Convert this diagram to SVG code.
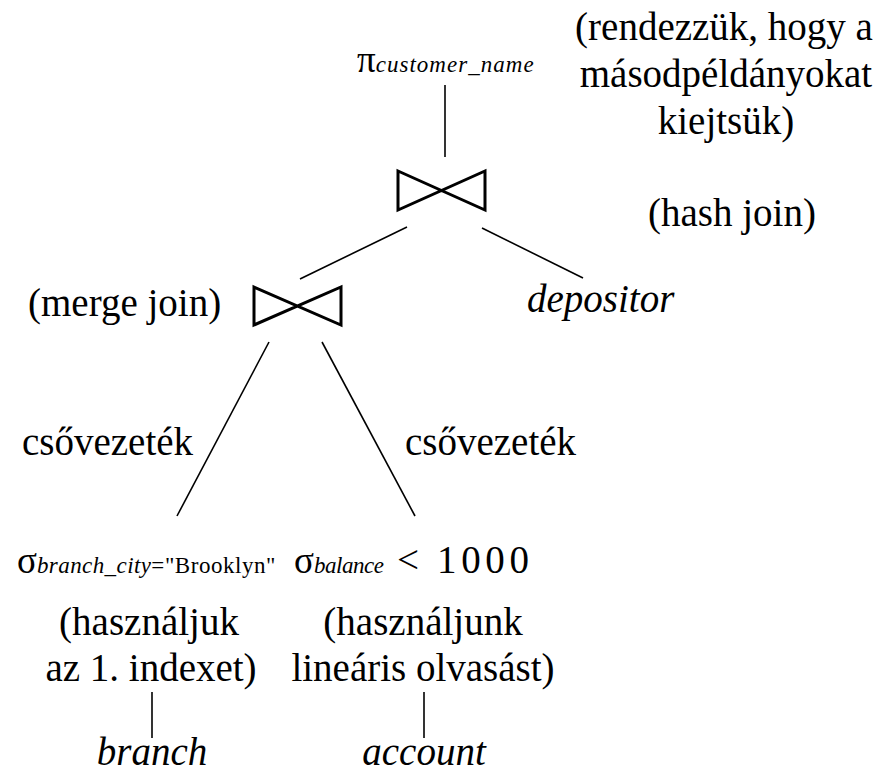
<svg xmlns="http://www.w3.org/2000/svg" width="892" height="773" viewBox="0 0 892 773">
<style>
text{font-family:"Liberation Serif","Times New Roman",serif;fill:#000}
.t{font-size:39px}
.i{font-style:italic}
.sub{font-size:23px}
.op{font-size:37px}
.bow{fill:none;stroke:#000;stroke-width:3;stroke-linejoin:miter}
.edge{stroke:#000;stroke-width:1.6;fill:none}
</style>
<rect width="892" height="773" fill="#fff"/>
<g id="connectors">
<line class="edge" x1="445" y1="85" x2="445" y2="157"/>
<line class="edge" x1="407" y1="227" x2="300" y2="279"/>
<line class="edge" x1="482" y1="228" x2="583" y2="278"/>
<line class="edge" x1="269" y1="342" x2="177" y2="516"/>
<line class="edge" x1="322" y1="342" x2="415" y2="516"/>
<line class="edge" x1="152" y1="692" x2="152" y2="738"/>
<line class="edge" x1="424" y1="692" x2="424" y2="738"/>
</g>
<g id="proj">
<text x="357" y="72"><tspan class="op">π</tspan><tspan class="sub i" textLength="158">customer_name</tspan></text>
</g>
<g id="hashjoin">
<path class="bow" d="M398,171 L485,210 L485,171 L398,210 Z"/>
</g>
<g id="note-sort">
<text class="t" text-anchor="middle" x="724" y="40">(rendezzük, hogy a</text>
<text class="t" text-anchor="middle" x="726" y="87">másodpéldányokat</text>
<text class="t" text-anchor="middle" x="726" y="134">kiejtsük)</text>
</g>
<g id="note-hash">
<text class="t" text-anchor="middle" x="732" y="226">(hash join)</text>
</g>
<g id="mergejoin">
<path class="bow" d="M254,287 L341,325 L341,287 L254,325 Z"/>
<text class="t" x="28" y="316">(merge join)</text>
</g>
<g id="depositor">
<text class="t i" x="527" y="312">depositor</text>
</g>
<g id="pipe-left">
<text class="t" x="22" y="455">csővezeték</text>
</g>
<g id="pipe-right">
<text class="t" x="405" y="455">csővezeték</text>
</g>
<g id="sel-branch">
<text x="17" y="573"><tspan class="op">σ</tspan><tspan class="sub i" textLength="114">branch_city</tspan><tspan class="sub" textLength="124">="Brooklyn"</tspan></text>
<text class="t" text-anchor="middle" x="149" y="635">(használjuk</text>
<text class="t" text-anchor="middle" x="151" y="681">az 1. indexet)</text>
</g>
<g id="sel-balance">
<text x="294" y="573"><tspan class="op">σ</tspan><tspan class="sub i" textLength="70">balance</tspan><tspan class="t" x="397">&lt;</tspan><tspan class="t" x="437" textLength="92">1000</tspan></text>
<text class="t" text-anchor="middle" x="423" y="635">(használjunk</text>
<text class="t" text-anchor="middle" x="423" y="681">lineáris olvasást)</text>
</g>
<g id="branch">
<text class="t i" text-anchor="middle" x="152" y="765">branch</text>
</g>
<g id="account">
<text class="t i" text-anchor="middle" x="424" y="765">account</text>
</g>
</svg>
